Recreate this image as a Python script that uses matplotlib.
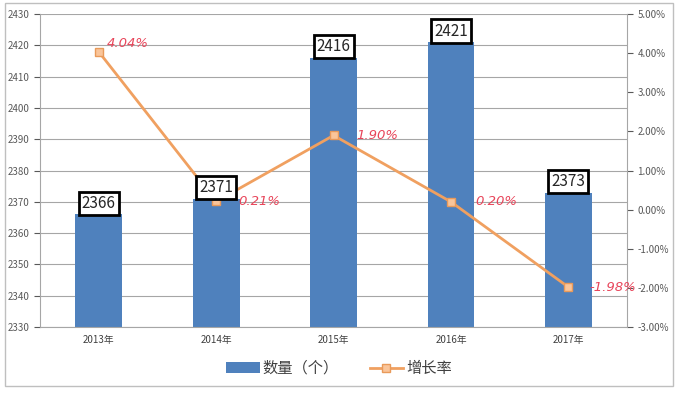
import matplotlib
matplotlib.use("Agg")
import matplotlib.pyplot as plt
from matplotlib.lines import Line2D
from matplotlib.patches import Patch, Rectangle

plt.rcParams['font.family'] = ['Noto Sans CJK SC', 'DejaVu Sans']

years = ['2013年', '2014年', '2015年', '2016年', '2017年']
counts = [2366, 2371, 2416, 2421, 2373]
growth = [4.04, 0.21, 1.90, 0.20, -1.98]
growth_labels = ['4.04%', '0.21%', '1.90%', '0.20%', '-1.98%']
left_ticks = list(range(2330, 2431, 10))
right_ticks = list(range(-3, 6))

fig = plt.figure(figsize=(6.78, 3.94), dpi=100)
fig.patches.append(Rectangle((0.008, 0.02), 0.984, 0.972, transform=fig.transFigure,
                             fill=False, edgecolor='#BFBFBF', linewidth=1))
ax = fig.add_axes([0.059, 0.170, 0.866, 0.794])
x = list(range(len(years)))
bars = ax.bar(x, counts, width=0.4, color='#4F81BD', zorder=2)
ax.set_ylim(2330, 2430)
ax.set_xlim(-0.5, 4.5)
ax.set_yticks(left_ticks)
ax.tick_params(axis='y', labelsize=7, colors='#595959', length=4, direction='out')
ax.tick_params(axis='x', labelsize=7, colors='#404040', length=0, pad=6)
ax.set_xticks(x)
ax.set_xticklabels(years)
ax.grid(axis='y', color='#A6A6A6', linewidth=0.8, zorder=0)
for s in ['top', 'right']:
    ax.spines[s].set_visible(False)
ax.spines['left'].set_color('#A6A6A6')
ax.spines['bottom'].set_color('#A6A6A6')

ax2 = ax.twinx()
ax2.set_ylim(-3, 5)
ax2.set_yticks(right_ticks)
ax2.set_yticklabels(['%.2f%%' % t for t in right_ticks])
ax2.tick_params(axis='y', labelsize=7, colors='#595959', length=4, direction='out')
for s in ['top', 'left', 'bottom']:
    ax2.spines[s].set_visible(False)
ax2.spines['right'].set_color('#A6A6A6')
ax2.plot(x, growth, color='#F0A060', linewidth=2, marker='s', markersize=6,
         markerfacecolor='#FAC59A', markeredgecolor='#E99A5A', zorder=4)
offsets = [(0.07, 0.2), (0.19, 0.0), (0.19, 0.0), (0.21, 0.0), (0.18, 0.0)]
for xi, g, lab, (dx, dy) in zip(x, growth, growth_labels, offsets):
    ax2.text(xi + dx, g + dy, lab, ha='left', va='center', fontsize=9.5,
             color='#E8455A', style='italic', family='DejaVu Sans', zorder=6)

for xi, c in zip(x, counts):
    ax2.text(xi, c + 0.9, str(c), ha='center', va='bottom', fontsize=11, color='#262626',
             transform=ax.transData,
             bbox=dict(boxstyle='square,pad=0.2', facecolor='white', edgecolor='black', linewidth=2),
             zorder=7)

handles = [Patch(facecolor='#4F81BD', edgecolor='none'),
           Line2D([0], [0], color='#F0A060', linewidth=2, marker='s', markersize=6,
                  markerfacecolor='#FAC59A', markeredgecolor='#E99A5A')]
fig.legend(handles, ['数量（个）', '增长率'], loc='center', bbox_to_anchor=(0.5, 0.065),
           ncol=2, frameon=False, fontsize=11, handlelength=2.2, handletextpad=0.2,
           columnspacing=2.0, labelcolor='#404040')

fig.savefig('out.png', dpi=100)
